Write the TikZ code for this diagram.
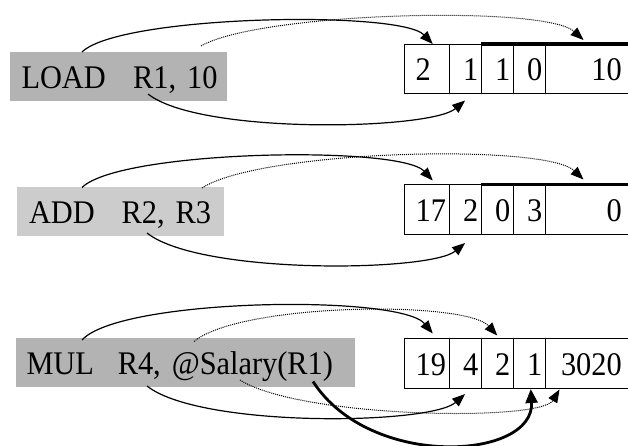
\documentclass[tikz,border=0pt]{standalone}
\usepackage{fontspec}
\setmainfont{Liberation Serif}[FakeStretch=0.92]
\usetikzlibrary{positioning,arrows.meta}
\definecolor{darkgrey}{RGB}{179,179,179}
\definecolor{lightgrey}{RGB}{204,204,204}
\tikzset{
	field/.style={draw,line width=0.8pt,outer sep=0pt,inner xsep=3pt,inner ysep=0pt,minimum height=49.5pt,align=right,text height=24pt,text depth=0pt},
	instr/.style={anchor=north west,outer sep=0pt,inner ysep=0pt,minimum height=49pt,align=left,text height=24pt,text depth=0pt},
	ptr/.style={line width=1.2pt,-{Triangle[length=13pt,width=10pt]}},
	dotptr/.style={line width=1pt,dash pattern=on 1pt off 1pt,-{Triangle[length=13pt,width=10pt]}},
	bigptr/.style={line width=2.8pt,-{Triangle[length=14pt,width=12pt]}}
}
\begin{document}
\begin{tikzpicture}[x=1pt,y=-1pt,font=\fontsize{33}{38}\selectfont]
				\useasboundingbox (0,0) rectangle (628,446);
				\node[instr,fill=darkgrey,inner xsep=11.5pt,text width=194pt] (I1) at (10,52) {\makebox[111.6pt][l]{LOAD}\mbox{R1, 10}};
				\node[instr,fill=lightgrey,inner xsep=12pt,text width=183pt] (I2) at (17,187) {\makebox[92.7pt][l]{ADD}\mbox{R2, R3}};
				\node[instr,fill=darkgrey,inner xsep=10.5pt,text width=318pt] (I3) at (16,338) {\makebox[91.3pt][l]{MUL}\mbox{R4, @Salary(R1)}};
				\node[field,anchor=north west,text width=38.5pt] (w1a) at (404.5,44) {2\phantom{0}};
				\node[field,text width=26.25pt,right=0pt of w1a] (w1b) {1};
				\node[field,text width=26pt,right=0pt of w1b] (w1c) {1};
				\node[field,text width=26pt,right=0pt of w1c] (w1d) {0};
				\node[field,text width=68.5pt,inner xsep=8pt,right=0pt of w1d] (w1e) {10};
				\node[field,anchor=north west,text width=38.5pt] (w2a) at (404.5,184.5) {17};
				\node[field,text width=26.25pt,right=0pt of w2a] (w2b) {2};
				\node[field,text width=26pt,right=0pt of w2b] (w2c) {0};
				\node[field,text width=26pt,right=0pt of w2c] (w2d) {3};
				\node[field,text width=68.5pt,inner xsep=8pt,right=0pt of w2d] (w2e) {0};
				\node[field,anchor=north west,text width=38.5pt] (w3a) at (404.5,338.5) {19};
				\node[field,text width=26.25pt,right=0pt of w3a] (w3b) {4};
				\node[field,text width=26pt,right=0pt of w3b] (w3c) {2};
				\node[field,text width=26pt,right=0pt of w3c] (w3d) {1};
				\node[field,text width=68.5pt,inner xsep=8pt,right=0pt of w3d] (w3e) {3020};
				\draw[line width=3.3pt] (w1c.north west) -- (w1e.north east);
				\draw[line width=3.3pt] (w2c.north west) -- (w2e.north east);
				\coordinate (s1a) at (82,52);
				\coordinate (s1b) at (201,46);
				\coordinate (s1c) at (148,94);
				\coordinate (s2a) at (82,187.5);
				\coordinate (s2b) at (202,188);
				\coordinate (s2c) at (147,233);
				\coordinate (s3a) at (82,340);
				\coordinate (s3b) at (194,341.5);
				\coordinate (s3c) at (147,386);
				\coordinate (s3d) at (240,380);
				\coordinate (s3e) at (313,381.5);
				\draw[ptr] (s1a) .. controls (120,15) and (400,10) .. ([xshift=6pt]w1a.north);
				\draw[dotptr] (s1b) .. controls (260,12) and (545,5) .. ([xshift=-4pt,yshift=4pt]w1e.north);
				\draw[ptr] (s1c) .. controls (200,135) and (430,130) .. ([yshift=-7pt]w1b.south);
				\draw[ptr] (s2a) .. controls (120,150) and (400,145) .. ([xshift=6pt,yshift=4pt]w2a.north);
				\draw[dotptr] (s2b) .. controls (260,150) and (545,143) .. ([xshift=-4pt,yshift=5pt]w2e.north);
				\draw[ptr] (s2c) .. controls (200,275) and (430,272) .. ([yshift=-9pt]w2b.south);
				\draw[ptr] (s3a) .. controls (120,298) and (400,294) .. ([xshift=6pt,yshift=5pt]w3a.north);
				\draw[dotptr] (s3b) .. controls (240,303) and (465,300) .. ([yshift=3pt]w3c.north);
				\draw[ptr] (s3c) .. controls (200,428) and (430,425) .. ([yshift=-6pt]w3b.south);
				\draw[dotptr] (s3d) .. controls (300,418) and (540,422) .. ([xshift=-28pt,yshift=-1.5pt]w3e.south);
				\draw[bigptr] (s3e) .. controls (370,470) and (535,460) .. ([xshift=1.5pt,yshift=-1pt]w3d.south);
\end{tikzpicture}
\end{document}
